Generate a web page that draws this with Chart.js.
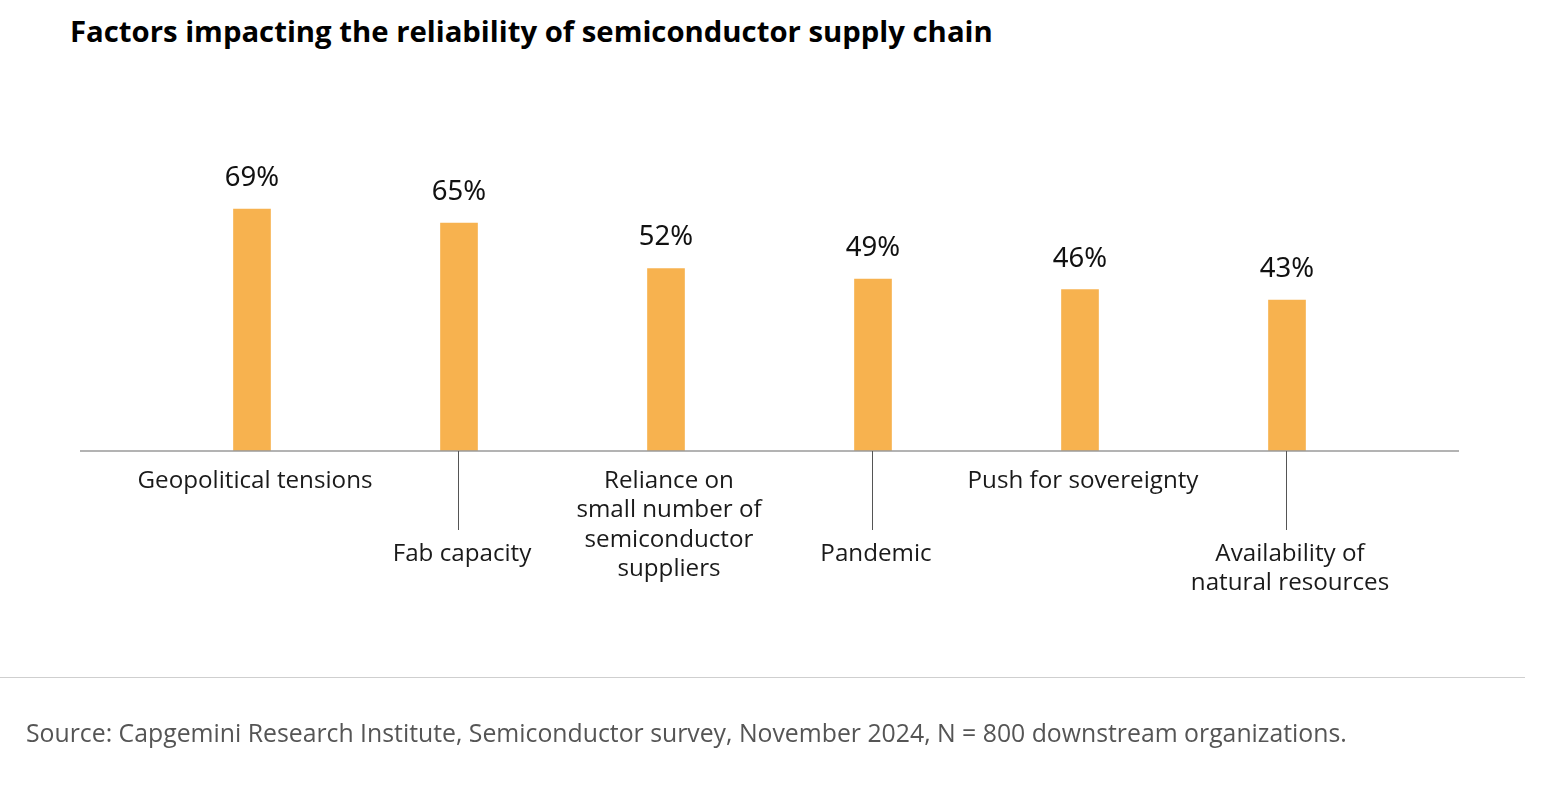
<!DOCTYPE html>
<html><head><meta charset="utf-8">
<script src="https://cdn.jsdelivr.net/npm/chart.js@4"></script>
<style>
html,body{margin:0;padding:0;background:#fff;width:1558px;height:808px;overflow:hidden;}
#title{position:absolute;left:70px;top:11px;font-family:"Open Sans";font-weight:700;font-size:29.3px;color:#000;white-space:nowrap;}
#sep{position:absolute;left:0;top:677px;width:1525px;height:1px;background:#cfcfcf;}
#source{position:absolute;left:26px;top:715px;font-family:"Open Sans";font-size:24.8px;color:#555;white-space:nowrap;}
#wrap{position:absolute;left:0;top:0;width:1558px;height:808px;}
</style></head><body>
<div id="title">Factors impacting the reliability of semiconductor supply chain</div>
<div id="wrap"><canvas id="c"></canvas></div>
<div id="sep"></div>
<div id="source">Source: Capgemini Research Institute, Semiconductor survey, November 2024, N = 800 downstream organizations.</div>
<script>
const categories = [
  ["Geopolitical tensions"],
  ["Fab capacity"],
  ["Reliance on", "small number of", "semiconductor", "suppliers"],
  ["Pandemic"],
  ["Push for sovereignty"],
  ["Availability of", "natural resources"]
];
const values = [69, 65, 52, 49, 46, 43];
const valueSuffix = "%";

const labelPlugin = {
  id: 'customLabels',
  afterDatasetsDraw(chart) {
    const ctx = chart.ctx;
    const xs = chart.scales.x, ys = chart.scales.y;
    const y0 = ys.getPixelForValue(0);
    const step = xs.getPixelForValue(1) - xs.getPixelForValue(0);
    const ext = step * 0.331;
    ctx.save();
    // baseline
    ctx.strokeStyle = '#9a9a9a';
    ctx.lineWidth = 1.5;
    ctx.beginPath();
    ctx.moveTo(chart.chartArea.left - ext, y0);
    ctx.lineTo(chart.chartArea.right + ext, y0);
    ctx.stroke();
    // value labels
    ctx.fillStyle = '#111';
    ctx.font = '27.5px "Noto Sans"';
    ctx.textAlign = 'center';
    ctx.textBaseline = 'middle';
    values.forEach((v, i) => {
      const x = xs.getPixelForValue(i);
      const yt = ys.getPixelForValue(v);
      ctx.fillText(v + valueSuffix, x, yt - 31);
    });
    // category labels
    ctx.font = '24.2px "Open Sans"';
    ctx.fillStyle = '#1a1a1a';
    const lh = 29.5;
    categories.forEach((lines, i) => {
      const x = xs.getPixelForValue(i);
      let start;
      if (i % 2 === 0) {
        start = y0 + 30;
      } else {
        ctx.strokeStyle = '#555';
        ctx.lineWidth = 1;
        ctx.beginPath();
        ctx.moveTo(Math.round(x) - 0.5, y0);
        ctx.lineTo(Math.round(x) - 0.5, y0 + 79);
        ctx.stroke();
        start = y0 + 103;
      }
      lines.forEach((ln, k) => ctx.fillText(ln, x + 3, start + k * lh));
    });
    ctx.restore();
  }
};

new Chart(document.getElementById('c'), {
  type: 'bar',
  data: {
    labels: categories,
    datasets: [{
      data: values,
      backgroundColor: '#F7B24F',
      borderWidth: 0,
      barThickness: 37
    }]
  },
  options: {
    responsive: true,
    maintainAspectRatio: false,
    animation: false,
    layout: { padding: { left: 148.5, right: 167.5, top: 100.3, bottom: 357 } },
    plugins: { legend: { display: false }, tooltip: { enabled: false } },
    scales: {
      x: { display: false },
      y: { display: false, min: 0, max: 100 }
    }
  },
  plugins: [labelPlugin]
});
</script>
</body></html>
